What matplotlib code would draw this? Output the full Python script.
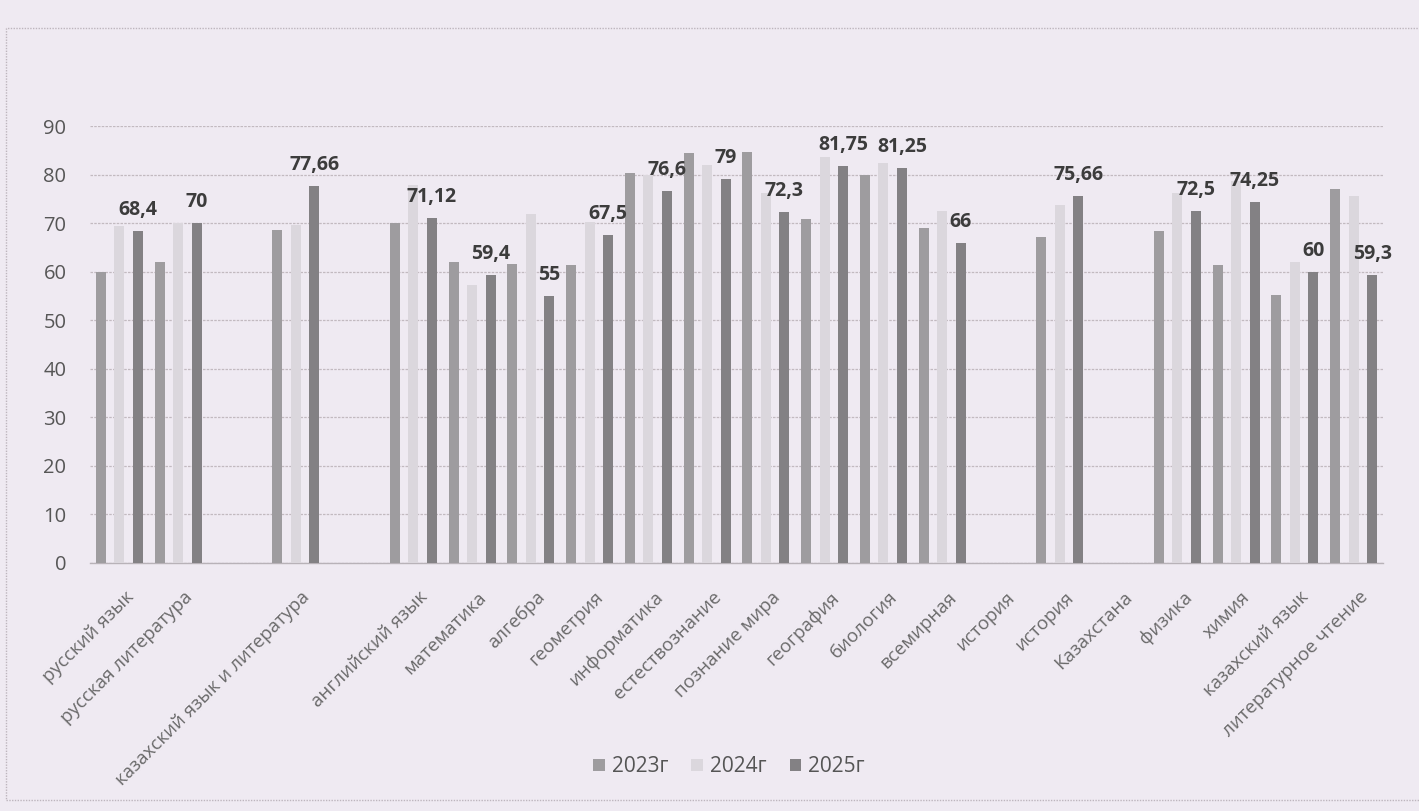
import numpy as np
import matplotlib
matplotlib.use("Agg")
import matplotlib.pyplot as plt
from matplotlib.patches import Rectangle
from matplotlib.transforms import ScaledTranslation

plt.rcParams['font.family'] = ['Open Sans', 'DejaVu Sans']

categories = ["русский язык", "русская литература", "", "казахский язык и литература", "",
              "английский язык", "математика", "алгебра", "геометрия", "информатика",
              "естествознание", "познание мира", "география", "биология", "всемирная",
              "история", "история", "Казахстана", "физика", "химия", "казахский язык",
              "литературное чтение"]
nan = np.nan
y2023 = [60, 62, nan, 68.5, nan, 70, 62, 61.5, 61.3, 80.4, 84.4, 84.7, 70.8, 80, 68.9,
         nan, 67.1, nan, 68.3, 61.4, 55.2, 77.1]
y2024 = [69.4, 70, nan, 69.7, nan, 77.9, 57.2, 71.8, 70.3, 80.0, 81.9, 76.3, 83.6, 82.4, 72.5,
         nan, 73.8, nan, 76.1, 78.6, 62.0, 75.5]
y2025 = [68.4, 70, nan, 77.66, nan, 71.12, 59.4, 55, 67.5, 76.6, 79, 72.3, 81.75, 81.25, 66,
         nan, 75.66, nan, 72.5, 74.25, 60, 59.3]
series_names = ["2023г", "2024г", "2025г"]
yticks = list(range(0, 100, 10))

W, H = 1419, 811
bg = '#efeaf2'
fig = plt.figure(figsize=(W / 100, H / 100), dpi=100, facecolor=bg)
ax = fig.add_axes([90 / W, 1 - 563 / H, (1383 - 90) / W, (563 - 126) / H])
ax.set_facecolor(bg)

# chart-area border
fig.patches.append(Rectangle((6 / W, 1 - 800 / H), 1.2, (800 - 28) / H, transform=fig.transFigure,
                             fill=False, ec='#bdb5bd', lw=1.0, ls=(0, (1, 1))))

x = np.arange(len(categories))
colors = ['#9e9c9f', '#dbd7dd', '#838184']
offsets = [-0.315, 0.0, 0.315]
width = 0.17
bars = []
for vals, off, c, name in zip([y2023, y2024, y2025], offsets, colors, series_names):
    b = ax.bar(x + off, vals, width=width, color=c, label=name, zorder=3)
    bars.append(b)

for xi, v in zip(x, y2025):
    if np.isnan(v):
        continue
    ax.annotate(f"{v:g}".replace('.', ','), (xi + offsets[2], v), xytext=(0, 16),
                textcoords='offset pixels', ha='center', va='baseline',
                fontsize=14, fontweight='bold', color='#3c3c3c', zorder=4)

ax.set_xlim(-0.5, len(categories) - 0.5)
ax.set_ylim(0, 90)
ax.set_yticks(yticks)
ax.set_yticklabels([str(t) for t in yticks], fontsize=14.5, color='#565656')
ax.tick_params(axis='y', length=0, pad=17)
ax.yaxis.grid(True, color='#c2bac0', lw=0.9, ls=(0, (2, 1)), zorder=0)
ax.set_axisbelow(True)
for s in ['top', 'right', 'left']:
    ax.spines[s].set_visible(False)
ax.spines['bottom'].set_color('#b8b2b8')
ax.spines['bottom'].set_linewidth(1.0)

ax.set_xticks(x)
ax.set_xticklabels(categories, rotation=45, ha='right', va='top', rotation_mode='anchor',
                   fontsize=13.5, color='#6a6a6a')
ax.tick_params(axis='x', length=0, pad=0)
shift = ScaledTranslation(5 / 100, -25 / 100, fig.dpi_scale_trans)
for lab in ax.get_xticklabels():
    lab.set_transform(lab.get_transform() + shift)

fig.legend(handles=bars, labels=series_names, loc='center', bbox_to_anchor=(729 / W, 1 - 767 / H),
           ncol=3, frameon=False, fontsize=15, handlelength=0.55, handleheight=0.55,
           handletextpad=0.35, columnspacing=1.1, labelcolor='#555555')

fig.savefig('out.png', dpi=100, facecolor=bg)
